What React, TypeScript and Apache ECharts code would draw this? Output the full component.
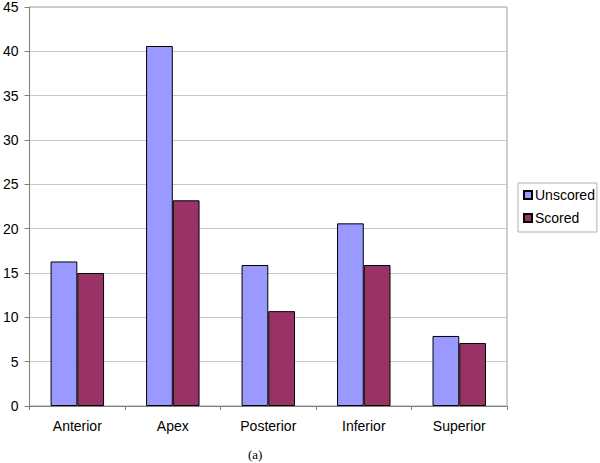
import React, { useEffect, useRef } from "react";
import * as echarts from "echarts";

const categories = ["Anterior", "Apex", "Posterior", "Inferior", "Superior"];
const unscored = [16.3, 40.6, 15.9, 20.6, 7.9];
const scored = [15.0, 23.2, 10.7, 15.9, 7.1];
const seriesNames = ["Unscored", "Scored"];
const caption = "(a)";

export default function App() {
  const ref = useRef<HTMLDivElement>(null);
  useEffect(() => {
    if (!ref.current) return;
    const chart = echarts.init(ref.current, null, { renderer: "svg" });
    chart.setOption({
      animation: false,
      backgroundColor: "#ffffff",
      textStyle: { fontFamily: "Liberation Sans, Arial, sans-serif" },
      grid: {
        left: 26,
        right: 93,
        top: 6,
        bottom: 57,
        show: true,
        borderColor: "#a0a0a0",
        borderWidth: 1,
      },
      legend: {
        orient: "vertical",
        left: 518,
        top: 183,
        data: seriesNames,
        icon: "rect",
        itemWidth: 8,
        itemHeight: 8,
        itemGap: 9,
        padding: [5, 2, 7, 5],
        borderColor: "#b0b0b0",
        borderWidth: 1,
        textStyle: { fontSize: 14, color: "#000", padding: [0, 0, 0, -2] },
      },
      xAxis: {
        type: "category",
        data: categories,
        axisLine: { lineStyle: { color: "#808080", width: 1 } },
        axisTick: { show: true, alignWithLabel: false, length: 4, lineStyle: { color: "#808080" } },
        axisLabel: { fontSize: 14, color: "#000", margin: 13 },
      },
      yAxis: {
        type: "value",
        min: 0,
        max: 45,
        interval: 5,
        axisLine: { show: true, lineStyle: { color: "#808080", width: 1 } },
        axisTick: { show: true, length: 5, lineStyle: { color: "#808080" } },
        axisLabel: { fontSize: 14, color: "#000", margin: 11 },
        splitLine: { show: true, lineStyle: { color: "#c8c8c8", width: 1 } },
      },
      series: [
        {
          name: seriesNames[0],
          type: "bar",
          data: unscored,
          barGap: "0%",
          barCategoryGap: "44%",
          itemStyle: { color: "#9999FF", borderColor: "#000", borderWidth: 1 },
        },
        {
          name: seriesNames[1],
          type: "bar",
          data: scored,
          itemStyle: { color: "#993366", borderColor: "#000", borderWidth: 1 },
        },
      ],
      graphic: [
        {
          type: "text",
          left: 248,
          top: 448,
          style: {
            text: caption,
            fontSize: 13,
            fontFamily: "Liberation Serif, Times New Roman, serif",
            fill: "#000",
          },
        },
      ],
    });
    return () => chart.dispose();
  }, []);
  return (
    <div
      ref={ref}
      style={{ position: "fixed", left: 0, top: 0, width: 600, height: 463 }}
    />
  );
}
